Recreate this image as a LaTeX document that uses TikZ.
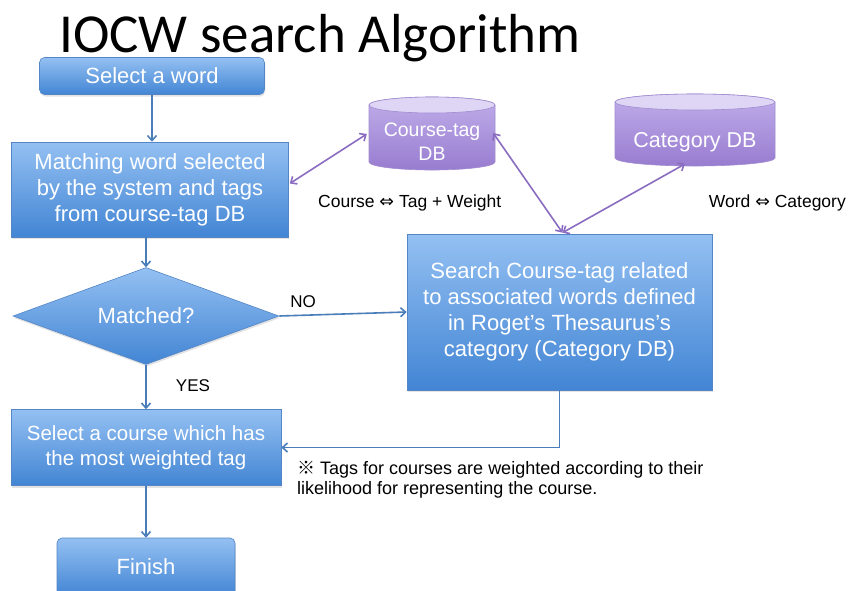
\documentclass[tikz,border=0pt]{standalone}
\usepackage{fontspec}
\setmainfont{Liberation Sans}
\newfontfamily\titlefont{Carlito}
\newfontfamily\symfont{DejaVu Sans}
\newfontfamily\jpfont{Noto Sans CJK JP}
\usetikzlibrary{shapes.geometric,arrows.meta,calc,shadows}

\definecolor{boxtop}{RGB}{148,192,242}
\definecolor{boxbot}{RGB}{66,133,212}
\definecolor{boxline}{RGB}{84,134,198}
\definecolor{arrowblue}{RGB}{74,126,187}
\definecolor{arrowpurple}{RGB}{138,108,192}
\definecolor{dbtopc}{RGB}{222,214,244}
\definecolor{dbbodytop}{RGB}{192,174,234}
\definecolor{dbbodybot}{RGB}{152,124,208}
\definecolor{dbline}{RGB}{160,140,208}

\begin{document}
\begin{tikzpicture}[x=1pt,y=-1pt,
  flowbox/.style={draw=boxline, line width=0.6pt, top color=boxtop, bottom color=boxbot,
    text=white, align=center, inner sep=0pt,
    drop shadow={opacity=0.22, shadow xshift=0.8pt, shadow yshift=-2pt},
    font=\fontsize{22}{26}\selectfont},
  roundbox/.style={flowbox, rounded corners=5pt},
  decision/.style={flowbox, diamond, aspect=2.7},
  dbtext/.style={text=white, align=center, inner sep=0pt, font=\fontsize{19.5}{24}\selectfont},
  lbl/.style={inner sep=0pt, text=black},
  bluearrow/.style={draw=arrowblue, line width=1.6pt, -{Straight Barb[length=5pt,width=9pt]}},
  purplearrow/.style={draw=arrowpurple, line width=1.6pt, {Straight Barb[length=5pt,width=9pt]}-{Straight Barb[length=5pt,width=9pt]}},
  dbbody/.style={top color=dbbodytop, bottom color=dbbodybot, draw=dbline, line width=0.6pt},
  dbcap/.style={fill=dbtopc, draw=dbline, line width=0.6pt}
]
\clip (0,0) rectangle (848,590);
\fill[white] (0,0) rectangle (848,590);

% title
\node[anchor=base west, inner sep=0pt, font=\titlefont\fontsize{55}{60}\selectfont] (title) at (59,52) {IOCW search Algorithm};

% cylinders
\path[dbbody] (369,105) -- (369,162) arc[start angle=180,end angle=0,x radius=63,y radius=8] -- (495,105) arc[start angle=0,end angle=-180,x radius=63,y radius=8] -- cycle;
\path[dbcap] (432,105) ellipse[x radius=63,y radius=8];
\path[dbbody] (615,102) -- (615,158) arc[start angle=180,end angle=0,x radius=80,y radius=8] -- (775,102) arc[start angle=0,end angle=-180,x radius=80,y radius=8] -- cycle;
\path[dbcap] (695,102) ellipse[x radius=80,y radius=8];

\node[dbtext, minimum width=126pt] (ctdb) at (432,142) {Course-tag\\DB};
\node[dbtext, minimum width=160pt, font=\fontsize{21.5}{24}\selectfont] (catdb) at (695,142) {Category DB};

% flow boxes
\node[roundbox, minimum width=225pt, minimum height=37pt] (sel) at (152,76) {Select a word};
\node[flowbox, minimum width=277pt, minimum height=95pt] (match) at (150,189.5) {Matching word selected\\by the system and tags\\from course-tag DB};
\node[decision, minimum width=266pt, minimum height=97pt] (dec) at (146,316) {Matched?};
\node[flowbox, minimum width=305pt, minimum height=156pt] (search) at (559.5,312) {Search Course-tag related\\to associated words defined\\in Roget's Thesaurus's\\category (Category DB)};
\node[flowbox, minimum width=270pt, minimum height=76pt, font=\fontsize{20.5}{24.5}\selectfont] (course) at (146,447.5) {Select a course which has\\the most weighted tag};
\node[roundbox, minimum width=178pt, minimum height=58pt] (finish) at (146,567) {Finish};

% blue connectors
\draw[bluearrow] (sel.south) -- (sel.south |- match.north);
\draw[bluearrow] (dec.north |- match.south) -- (dec.north);
\draw[bluearrow] (dec.east) -- (search.west);
\draw[bluearrow] (dec.south) -- (course.north);
\draw[bluearrow] (search.south) |- (course.east);
\draw[bluearrow] (course.south) -- (finish.north);

% purple connectors
\draw[purplearrow] ($(match.east)+(1,-6)$) -- ($(ctdb.west)+(-2,-8)$);
\draw[purplearrow] ($(ctdb.east)+(-2,-9)$) -- ($(search.north)+(3,-1)$);
\draw[purplearrow] ($(search.north)+(3,-1)$) -- ($(catdb.south)+(-10,12)$);

% labels
\node[lbl, font=\fontsize{17}{20}\selectfont] (no) at (303,302) {NO};
\node[lbl, font=\fontsize{17}{20}\selectfont] (yes) at (193,386) {YES};
\node[lbl, anchor=west, font=\fontsize{17.5}{20}\selectfont] (l1) at (318,203) {Course {\symfont ⇔} Tag + Weight};
\node[lbl, anchor=east, font=\fontsize{17.5}{20}\selectfont] (l2) at (846,203) {Word {\symfont ⇔} Category};
\node[lbl, anchor=base west, align=left, font=\fontsize{18}{20}\selectfont] (note) at (297,494) {{\jpfont ※} Tags for courses are weighted according to their\\likelihood for representing the course.};
\end{tikzpicture}
\end{document}
